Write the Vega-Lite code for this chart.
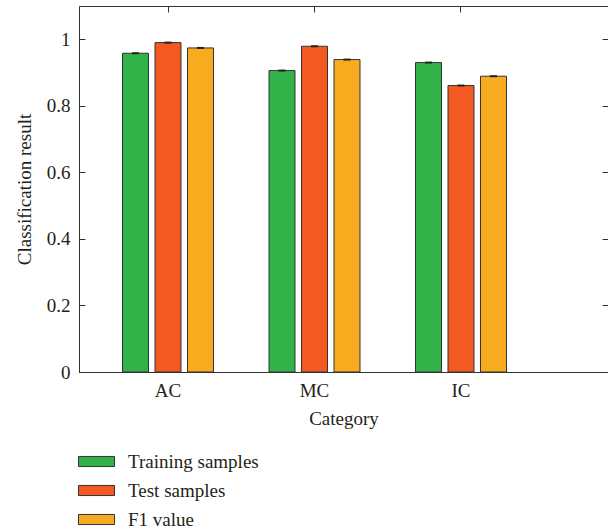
{
  "$schema": "https://vega.github.io/schema/vega-lite/v6.json",
  "width": 529,
  "height": 366,
  "autosize": "none",
  "padding": {"left": 79, "top": 6, "right": 0, "bottom": 157},
  "background": "white",
  "config": {
    "view": {"stroke": "#333333", "strokeWidth": 1},
    "font": "Liberation Serif, serif",
    "axis": {"labelFont": "Liberation Serif, serif", "titleFont": "Liberation Serif, serif", "labelColor": "#231f20", "titleColor": "#231f20", "titleFontWeight": "normal", "domainColor": "#333333", "tickColor": "#333333", "grid": false},
    "legend": {"labelFont": "Liberation Serif, serif", "labelColor": "#231f20"}
  },
  "data": {"values": [
    {"cat": "AC", "series": "Training samples", "value": 0.958, "lo": 0.955, "hi": 0.961},
    {"cat": "AC", "series": "Test samples", "value": 0.990, "lo": 0.987, "hi": 0.993},
    {"cat": "AC", "series": "F1 value", "value": 0.974, "lo": 0.971, "hi": 0.977},
    {"cat": "MC", "series": "Training samples", "value": 0.906, "lo": 0.903, "hi": 0.909},
    {"cat": "MC", "series": "Test samples", "value": 0.979, "lo": 0.976, "hi": 0.982},
    {"cat": "MC", "series": "F1 value", "value": 0.939, "lo": 0.936, "hi": 0.942},
    {"cat": "IC", "series": "Training samples", "value": 0.930, "lo": 0.927, "hi": 0.933},
    {"cat": "IC", "series": "Test samples", "value": 0.861, "lo": 0.858, "hi": 0.864},
    {"cat": "IC", "series": "F1 value", "value": 0.889, "lo": 0.886, "hi": 0.892}
  ]},
  "resolve": {"axis": {"x": "independent", "y": "independent"}},
  "layer": [
    {
      "mark": {"type": "bar", "stroke": "#333333", "strokeWidth": 1},
      "encoding": {
        "x": {"field": "cat", "type": "nominal", "sort": ["AC", "MC", "IC"],
          "scale": {"domain": ["AC", "MC", "IC"], "paddingInner": 0, "paddingOuter": 0.3055, "align": 0.176},
          "axis": {"orient": "bottom", "title": "Category", "labelAngle": 0, "ticks": false, "labelPadding": 9, "labelFontSize": 19, "titleFontSize": 19, "titlePadding": 9, "domain": true}},
        "xOffset": {"field": "series", "type": "nominal", "sort": ["Training samples", "Test samples", "F1 value"],
          "scale": {"paddingInner": 0.2, "paddingOuter": 0.854}},
        "y": {"field": "value", "type": "quantitative",
          "scale": {"domain": [0, 1.1], "nice": false},
          "axis": {"orient": "left", "title": "Classification result", "values": [0, 0.2, 0.4, 0.6, 0.8, 1], "format": "~g", "tickSize": -6, "labelPadding": 15, "labelFontSize": 19, "titleFontSize": 19, "titlePadding": 12, "domain": true}},
        "color": {"field": "series", "type": "nominal", "sort": ["Training samples", "Test samples", "F1 value"],
          "scale": {"domain": ["Training samples", "Test samples", "F1 value"], "range": ["#32b34a", "#f25a22", "#f9ab20"]},
          "legend": {"orient": "none", "legendX": -1, "legendY": 437, "title": null, "symbolType": "M-1,-0.28L1,-0.28L1,0.28L-1,0.28Z", "symbolSize": 1296, "symbolStrokeColor": "#333333", "symbolStrokeWidth": 1, "symbolOpacity": 1, "labelFontSize": 19, "labelOffset": 13, "rowPadding": -5, "padding": 0}}
      }
    },
    {
      "mark": {"type": "bar", "color": "#222222", "width": 7},
      "encoding": {
        "x": {"field": "cat", "type": "nominal", "sort": ["AC", "MC", "IC"],
          "axis": {"orient": "top", "title": null, "labels": false, "tickSize": -6, "domain": false}},
        "xOffset": {"field": "series", "type": "nominal", "sort": ["Training samples", "Test samples", "F1 value"]},
        "y": {"field": "lo", "type": "quantitative",
          "axis": {"orient": "right", "title": null, "labels": false, "values": [0, 0.2, 0.4, 0.6, 0.8, 1], "tickSize": -6, "domain": false}},
        "y2": {"field": "hi"}
      }
    }
  ]
}
